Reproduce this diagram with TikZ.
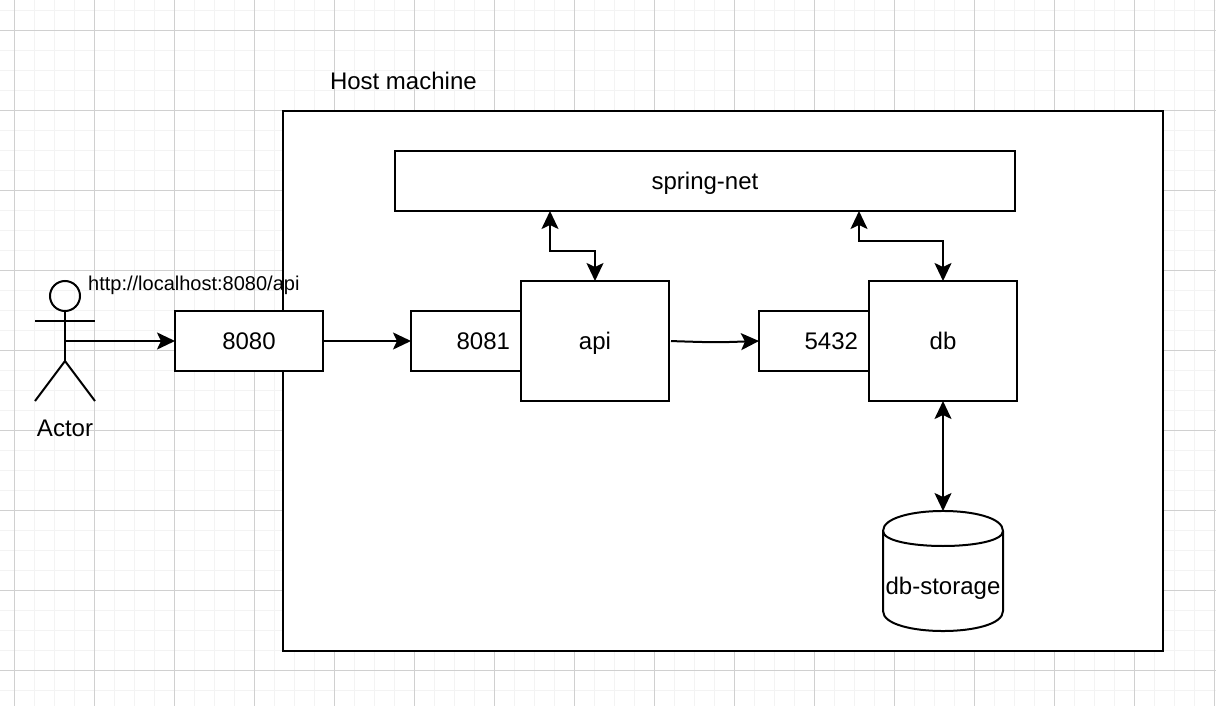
\documentclass[tikz,border=0pt]{standalone}
\usepackage{fontspec}
\setmainfont{Liberation Sans}
\usepackage{tikz}
\usetikzlibrary{positioning,arrows.meta}

\definecolor{gridminor}{HTML}{F3F3F3}
\definecolor{gridmajor}{HTML}{D0D0D0}

\tikzset{
  minorline/.style={draw=gridminor,line width=1.8pt},
  majorline/.style={draw=gridmajor,line width=1pt},
  shapeline/.style={draw=black,line width=2pt},
  box/.style={shapeline,fill=white,rectangle,anchor=north west,inner sep=0pt,outer sep=0pt,text height=17pt,text depth=0pt,font=\fontsize{24}{28}\selectfont},
  portbox/.style={box,minimum width=110pt,minimum height=60pt,inner xsep=11pt,text width=88pt,align=right},
  link/.style={shapeline,-{Stealth[length=18pt,width=17pt,inset=4pt]}},
  both/.style={shapeline,{Stealth[length=18pt,width=17pt,inset=4pt]}-{Stealth[length=18pt,width=17pt,inset=4pt]}},
  caption/.style={inner sep=0pt,outer sep=0pt,font=\fontsize{24}{28}\selectfont}
}

\begin{document}
\begin{tikzpicture}[x=1pt,y=-1pt]
  \useasboundingbox (0,0) rectangle (1216,706);
  \fill[white] (0,0) rectangle (1216,706);
  \begin{scope}
    \clip (0,0) rectangle (1216,706);
    % background grid
    \foreach \gx in {14.5,34.5,...,1214.5} {\draw[minorline] (\gx,0) -- (\gx,706);}
    \foreach \gy in {10.5,30.5,...,690.5} {\draw[minorline] (0,\gy) -- (1216,\gy);}
    \foreach \gx in {14.5,94.5,...,1214.5} {\draw[majorline] (\gx,0) -- (\gx,706);}
    \foreach \gy in {30.5,110.5,...,670.5} {\draw[majorline] (0,\gy) -- (1216,\gy);}
  \end{scope}

  \node[box,minimum width=880pt,minimum height=540pt](host) at (283,111){};
  \node[caption,anchor=west](hostlabel) at (330,81){Host machine};

  \node[box,minimum width=620pt,minimum height=60pt](net) at (395,151){spring-net};
  \node[portbox](p8081) at (411,311){8081};
  \node[portbox](p5432) at (759,311){5432};
  \node[box,minimum width=148pt,minimum height=120pt](api) at (521,281){api};
  \node[box,minimum width=148pt,minimum height=120pt](db) at (869,281){db};
  \node[box,minimum width=148pt,minimum height=60pt](p8080) at (175,311){8080};

  % storage
  \node[inner sep=0pt,outer sep=0pt,minimum size=120pt](storage) at (943,571){};
  \filldraw[shapeline,fill=white] (883,531) .. controls (883,504.3) and (1003,504.3) .. (1003,531)
    -- (1003,611) .. controls (1003,637.7) and (883,637.7) .. (883,611) -- cycle;
  \draw[shapeline] (883,531) .. controls (883,551) and (1003,551) .. (1003,531);
  \node[caption](storagelabel) at (943,588.5){db-storage};

  % actor
  \node[shapeline,circle,inner sep=0pt,outer sep=0pt,minimum size=30pt](head) at (65,296){};
  \coordinate (armleft) at (35,321);
  \coordinate (armright) at (95,321);
  \coordinate (hip) at (65,361);
  \coordinate (legleft) at (35,401);
  \coordinate (legright) at (95,401);
  \coordinate (actor) at (65,341);
  \draw[shapeline] (head.south) -- (hip);
  \draw[shapeline] (armleft) -- (armright);
  \draw[shapeline] (legleft) -- (hip) -- (legright);
  \node[caption](actorlabel) at (65,428){Actor};
  \node[inner sep=0pt,anchor=west,font=\fontsize{20}{24}\selectfont](url) at (88,285){http://localhost:8080/api};

  % connectors
  \coordinate (netapi) at (550,211);
  \coordinate (netdb) at (859,211);
  \draw[link] (actor) -- (p8080.west);
  \draw[link] (p8080.east) -- (p8081.west);
  \draw[link,shorten <=2pt] (api.east) .. controls (716,342.5) .. (p5432.west);
  \draw[both] (netapi) -- (550,251) -- (595,251) -- (api.north);
  \draw[both] (netdb) -- (859,241) -- (943,241) -- (db.north);
  \draw[both] (db.south) -- (storage.north);
\end{tikzpicture}
\end{document}
